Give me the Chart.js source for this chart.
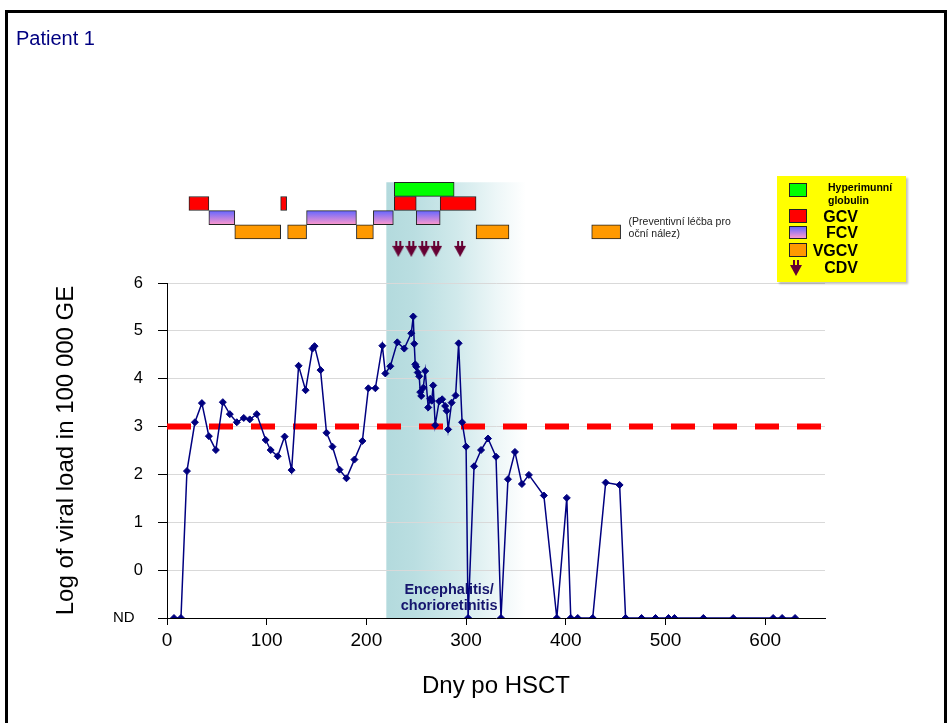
<!DOCTYPE html>
<html lang="cs">
<head>
  <meta charset="UTF-8" />
  <title>Patient 1 - CMV viral load</title>
  <script src="https://cdn.jsdelivr.net/npm/chart.js"></script>
  <style>
    body {
      margin: 0;
      background: #fff;
      font-family: 'Liberation Sans', Arial, sans-serif;
    }

    #page {
      position: relative;
      width: 952px;
      height: 723px;
      overflow: hidden;
    }

    #chart {
      position: absolute;
      left: 0;
      top: 0;
    }

    .frame {
      position: absolute;
      left: 5px;
      top: 10px;
      width: 942px;
      height: 760px;
      border: 3px solid #000;
      box-sizing: border-box;
    }

    .patient {
      position: absolute;
      left: 16px;
      top: 28px;
      font-size: 20px;
      line-height: 20px;
      color: #000080;
    }

    .key {
      position: absolute;
      left: 777px;
      top: 176px;
      width: 129px;
      height: 106px;
      background: #ffff00;
      box-shadow: 2px 2px 2px rgba(0,0,0,0.25);
    }

    .key .sw {
      position: absolute;
      left: 12px;
      width: 18px;
      height: 14px;
      border: 1px solid #222;
      box-sizing: border-box;
    }

    .key .lbl {
      position: absolute;
      right: 48px;
      font-weight: bold;
      font-size: 16px;
      line-height: 16px;
      color: #000;
    }

    .key .small {
      position: absolute;
      left: 51px;
      top: 5px;
      font-weight: bold;
      font-size: 10.5px;
      line-height: 12.5px;
      color: #000;
    }

    .key canvas {
      position: absolute;
      left: 13px;
      top: 84px;
    }
  </style>
</head>
<body>
  <div id="page">
    <canvas id="chart" width="952" height="723"></canvas>
    <div class="frame"></div>
    <div class="patient">Patient 1</div>
    <div class="key" id="key">
      <div class="sw" style="top:7px;background:#00ff00"></div>
      <div class="small">Hyperimunní<br>globulin</div>
      <div class="sw" style="top:33px;background:#ff0000"></div>
      <div class="lbl" style="top:33px">GCV</div>
      <div class="sw" style="top:50px;height:13px;background:linear-gradient(#6666ff,#ff99cc)"></div>
      <div class="lbl" style="top:49px">FCV</div>
      <div class="sw" style="top:67px;background:#ff9900"></div>
      <div class="lbl" style="top:67px">VGCV</div>
      <div class="lbl" style="top:84px">CDV</div>
    </div>
  </div>

  <script>
    const ND = -1;   // not detected

    // days after HSCT and log viral load
    const days = [7, 14, 20, 28, 35, 42, 49, 56, 63, 70,
      77, 83, 90, 99, 104, 111, 118, 125, 132, 139,
      146, 148, 154, 160, 166, 173, 180, 188, 196, 202,
      209, 216, 219, 224, 231, 238, 245, 247, 248, 249,
      250, 251.5, 253, 254, 255, 257, 259, 262, 264, 265.5,
      267, 269, 273, 276, 279, 280.5, 282, 285.5, 289.5, 292.5,
      296, 300, 302, 308, 315, 322, 330, 335, 342, 349,
      356, 363, 378, 391, 401, 405, 412, 427, 440, 454,
      460, 476, 490, 503, 509, 538, 568, 608, 617, 630];
    const load = [ND, ND, 2.07, 3.09, 3.49, 2.80, 2.51, 3.51, 3.26, 3.09,
      3.18, 3.15, 3.26, 2.72, 2.51, 2.38, 2.79, 2.09, 4.27, 3.76,
      4.63, 4.68, 4.18, 2.87, 2.58, 2.10, 1.92, 2.31, 2.70, 3.80,
      3.80, 4.69, 4.11, 4.26, 4.76, 4.63, 4.95, 5.30, 4.73, 4.30,
      4.25, 4.13, 4.05, 3.72, 3.64, 3.81, 4.16, 3.40, 3.58, 3.54,
      3.86, 3.03, 3.53, 3.57, 3.43, 3.33, 2.94, 3.50, 3.65, 4.74,
      3.09, 2.58, ND, 2.17, 2.51, 2.75, 2.37, ND, 1.90, 2.47,
      1.80, 1.99, 1.56, ND, 1.51, ND, ND, ND, 1.83, 1.78,
      ND, ND, ND, ND, ND, ND, ND, ND, ND, ND];
    const threshold = 3;

    // treatment courses [from, to] in days
    const hig = [[228, 288]];
    const gcv = [[22, 42], [114, 120], [228, 250], [274, 310]];
    const fcv = [[42, 68], [140, 190], [207, 227], [250, 274]];
    const vgcv = [[68, 114], [121, 140], [190, 207], [310, 343], [426, 455]];
    const cdv = [232, 245, 258, 270, 294];

    const band = [220, 360];
    const bandText = ['Encephalitis/', 'chorioretinitis'];
    const noteText = ['(Preventivní léčba pro', 'oční nález)'];
    const xMax = 660;

    const FONT = "'Liberation Sans', Arial, sans-serif";
    Chart.defaults.font.family = FONT;

    // rows of the therapy strip above the plot
    const row = { hig: 4, gcv: 3, fcv: 2, vgcv: 1, cdv: -0.2 };

    function makeArrow() {
      const c = document.createElement("canvas");
      c.width = 12;
      c.height = 16;
      const g = c.getContext("2d");
      g.fillStyle = "#660033";
      g.fillRect(3, 0, 2, 6);
      g.fillRect(7, 0, 2, 6);
      g.beginPath();
      g.moveTo(0, 5);
      g.lineTo(12, 5);
      g.lineTo(6, 16);
      g.closePath();
      g.fill();
      return c;
    }
    const arrow = makeArrow();
    document.getElementById("key").appendChild(makeArrow());

    function fcvFill(ctx) {
      const chart = ctx.chart;
      if (!chart.chartArea) return "#b080e0";
      const yc = chart.scales.yTop.getPixelForValue(row.fcv);
      const grad = chart.ctx.createLinearGradient(0, yc - 7, 0, yc + 7);
      grad.addColorStop(0, "#6666ff");
      grad.addColorStop(1, "#ff99cc");
      return grad;
    }

    function courses(label, list, r, color) {
      return {
        type: "bar",
        label: label,
        data: list.map(c => ({ x: c, y: r })),
        xAxisID: "x",
        yAxisID: "yTop",
        indexAxis: "y",
        grouped: false,
        barThickness: 14,
        backgroundColor: color,
        borderColor: "#222",
        borderWidth: 1,
        borderSkipped: false
      };
    }

    const bandPlugin = {
      id: "band",
      beforeDraw(chart) {
        const { ctx, scales } = chart;
        const left = scales.x.getPixelForValue(band[0]);
        const right = scales.x.getPixelForValue(band[1]);
        const top = scales.yTop.getPixelForValue(row.hig + 0.5);
        const bottom = scales.y.getPixelForValue(ND);
        const g = ctx.createLinearGradient(left, 0, right, 0);
        g.addColorStop(0, "#b3dadd");
        g.addColorStop(0.2, "#badee1");
        g.addColorStop(0.5, "#d0e9eb");
        g.addColorStop(0.8, "#eef7f8");
        g.addColorStop(1, "#ffffff");
        ctx.save();
        ctx.fillStyle = g;
        ctx.fillRect(left, top, right - left, bottom - top);
        ctx.restore();
      },
      beforeDatasetsDraw(chart) {
        const { ctx, scales } = chart;
        ctx.save();
        ctx.font = "bold 14.5px " + FONT;
        ctx.fillStyle = "#16166e";
        ctx.textAlign = "center";
        ctx.textBaseline = "middle";
        ctx.fillText(bandText[0], scales.x.getPixelForValue(283), scales.y.getPixelForValue(-0.41));
        ctx.fillText(bandText[1], scales.x.getPixelForValue(283), scales.y.getPixelForValue(-0.74));
        ctx.font = "10.5px " + FONT;
        ctx.fillStyle = "#222";
        ctx.textAlign = "left";
        ctx.fillText(noteText[0], scales.x.getPixelForValue(463), scales.yTop.getPixelForValue(1.69));
        ctx.fillText(noteText[1], scales.x.getPixelForValue(463), scales.yTop.getPixelForValue(0.85));
        ctx.restore();
      }
    };

    new Chart(document.getElementById("chart").getContext("2d"), {
      type: "line",
      data: {
        datasets: [
          {
            label: "Viral load",
            data: days.map((d, i) => ({ x: d, y: load[i] })),
            xAxisID: "x",
            yAxisID: "y",
            borderColor: "#000080",
            borderWidth: 1.5,
            pointStyle: "rectRot",
            pointRadius: 3.5,
            pointBackgroundColor: "#000080",
            pointBorderColor: "#000080",
            pointBorderWidth: 1,
            tension: 0
          },
          {
            label: "Threshold",
            data: [{ x: 0, y: threshold }, { x: xMax, y: threshold }],
            xAxisID: "x",
            yAxisID: "y",
            borderColor: "#ff0000",
            borderWidth: 6,
            borderDash: [24, 18],
            borderCapStyle: "butt",
            pointRadius: 0
          },
          courses("Hyperimunní globulin", hig, row.hig, "#00ff00"),
          courses("GCV", gcv, row.gcv, "#ff0000"),
          courses("FCV", fcv, row.fcv, fcvFill),
          courses("VGCV", vgcv, row.vgcv, "#ff9900"),
          {
            type: "scatter",
            label: "CDV",
            data: cdv.map(d => ({ x: d, y: row.cdv })),
            xAxisID: "x",
            yAxisID: "yTop",
            pointStyle: arrow,
            pointRadius: 7
          }
        ]
      },
      options: {
        responsive: false,
        animation: false,
        layout: { padding: { left: 50, right: 127, top: 179, bottom: 0 } },
        plugins: {
          legend: { display: false },
          tooltip: { enabled: false }
        },
        scales: {
          x: {
            type: "linear",
            position: "bottom",
            min: 0,
            max: xMax,
            ticks: { stepSize: 100, includeBounds: false, padding: 4, color: "#000", font: { size: 19 } },
            grid: { drawOnChartArea: false, tickLength: 7, tickColor: "#000" },
            border: { color: "#000" },
            title: {
              display: true,
              text: "Dny po HSCT",
              color: "#000",
              font: { size: 24 },
              padding: { top: 0, bottom: 22 }
            },
            afterFit: s => { s.height = 105; }
          },
          yTop: {
            type: "linear",
            position: "left",
            stack: "left",
            stackWeight: 104,
            weight: 1,
            offset: false,
            min: -2.61,
            max: 4.73,
            ticks: { display: false },
            grid: { display: false, offset: false },
            border: { display: false }
          },
          y: {
            type: "linear",
            position: "left",
            stack: "left",
            stackWeight: 335,
            weight: 0,
            min: ND,
            max: 6,
            ticks: {
              stepSize: 1,
              padding: 15,
              color: "#000",
              font: ctx => ({ size: ctx.tick && ctx.tick.value === ND ? 15 : 16.5 }),
              callback: v => v === ND ? "ND  " : v
            },
            grid: { color: "#d9d9d9", tickColor: "#000", tickLength: 9 },
            border: { color: "#000" },
            title: {
              display: true,
              text: "Log of viral load in 100 000 GE",
              color: "#000",
              font: { size: 24 },
              padding: { top: 2, bottom: 0 }
            },
            afterFit: s => { s.width = 117; }
          }
        }
      },
      plugins: [bandPlugin]
    });
  </script>
</body>
</html>
